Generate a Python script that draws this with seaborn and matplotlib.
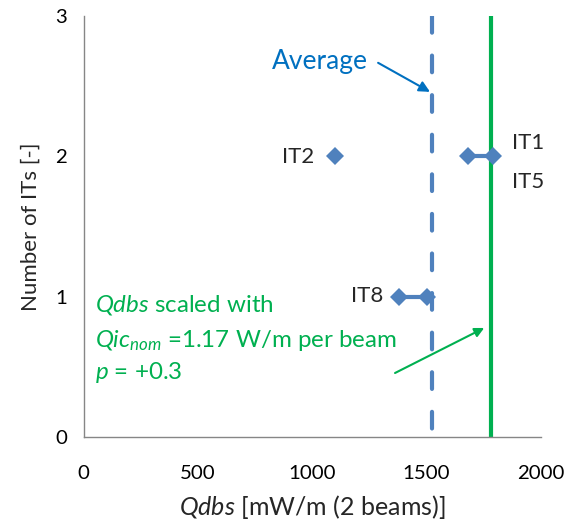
import matplotlib
matplotlib.use("Agg")
import matplotlib.pyplot as plt
import seaborn as sns
import pandas as pd

# Measured heat-load values per IT (groups joined by a bar)
it_labels = ["IT2", "IT1/IT5", "IT1/IT5", "IT8", "IT8"]
qdbs_values = [1100, 1680, 1790, 1380, 1500]
it_counts = [2, 2, 2, 1, 1]

average_qdbs = 1525
scaled_qdbs = 1780

x_ticks = [0, 500, 1000, 1500, 2000]
y_ticks = [0, 1, 2, 3]

BLUE = "#4F81BD"
TEXT_BLUE = "#0070C0"
GREEN = "#00B050"
GREY = "#868686"

sns.set_theme(style="white")
plt.rcParams["font.family"] = ["Lato", "DejaVu Sans"]
plt.rcParams["mathtext.fontset"] = "custom"
plt.rcParams["mathtext.rm"] = "Lato"
plt.rcParams["mathtext.it"] = "Lato:italic"

fig = plt.figure(figsize=(5.67, 5.31), dpi=100)
ax = fig.add_axes([0.1474, 0.177, 0.8066, 0.793])

# reference lines
ax.plot([average_qdbs, average_qdbs], [3, 0], color=BLUE, lw=3,
        dashes=(4, 5.5), solid_capstyle="round", dash_capstyle="round", zorder=2)
ax.plot([scaled_qdbs, scaled_qdbs], [3, 0], color=GREEN, lw=3, zorder=2)

df = pd.DataFrame({"qdbs": qdbs_values, "count": it_counts, "it": it_labels})
sns.lineplot(data=df, x="qdbs", y="count", units="it", estimator=None,
             sort=False, marker="D", markersize=9, markeredgewidth=0,
             color=BLUE, lw=3, ax=ax, zorder=3)

ax.set_xlim(0, 2000)
ax.set_ylim(0, 3)
ax.set_xticks(x_ticks)
ax.set_yticks(y_ticks)
ax.tick_params(axis="both", labelsize=14.7, colors="black", length=6, width=1,
               direction="out", color=GREY, pad=6)
ax.tick_params(axis="x", pad=14)
for side in ["top", "right"]:
    ax.spines[side].set_visible(False)
for side in ["left", "bottom"]:
    ax.spines[side].set_color(GREY)
    ax.spines[side].set_linewidth(1)

ax.set_xlabel(r"$\mathit{Qdbs}$ [mW/m (2 beams)]", fontsize=18, labelpad=8)
ax.set_ylabel("Number of ITs [-]", fontsize=16, labelpad=10)

# point labels
ax.text(1010, 1.996, "IT2", fontsize=16, ha="right", va="center")
ax.text(1874, 2.095, "IT1", fontsize=16, ha="left", va="center")
ax.text(1874, 1.817, "IT5", fontsize=16, ha="left", va="center")
ax.text(1309, 1.005, "IT8", fontsize=16, ha="right", va="center")

# average annotation
ax.text(1034, 2.673, "Average", fontsize=19, color=TEXT_BLUE,
        ha="center", va="center")
ax.annotate("", xy=(1515, 2.459), xytext=(1288, 2.666),
            arrowprops=dict(arrowstyle="-|>", color=TEXT_BLUE, lw=1.5,
                            mutation_scale=16, shrinkA=0, shrinkB=0))

# scaling note
GFS = 17.4
ax.text(48, 0.941, r"$\mathit{Qdbs}$ scaled with", fontsize=GFS, color=GREEN,
        ha="left", va="center")
ax.text(48, 0.69, r"$\mathit{Qic}_{\mathit{nom}}$ =1.17 W/m per beam",
        fontsize=GFS, color=GREEN, ha="left", va="center")
ax.text(48, 0.463, r"$\mathit{p}$ = +0.3", fontsize=GFS, color=GREEN,
        ha="left", va="center")
ax.annotate("", xy=(1752, 0.777), xytext=(1362, 0.456),
            arrowprops=dict(arrowstyle="-|>", color=GREEN, lw=1.5,
                            mutation_scale=14, shrinkA=0, shrinkB=0))

fig.savefig("out.png", dpi=100)
